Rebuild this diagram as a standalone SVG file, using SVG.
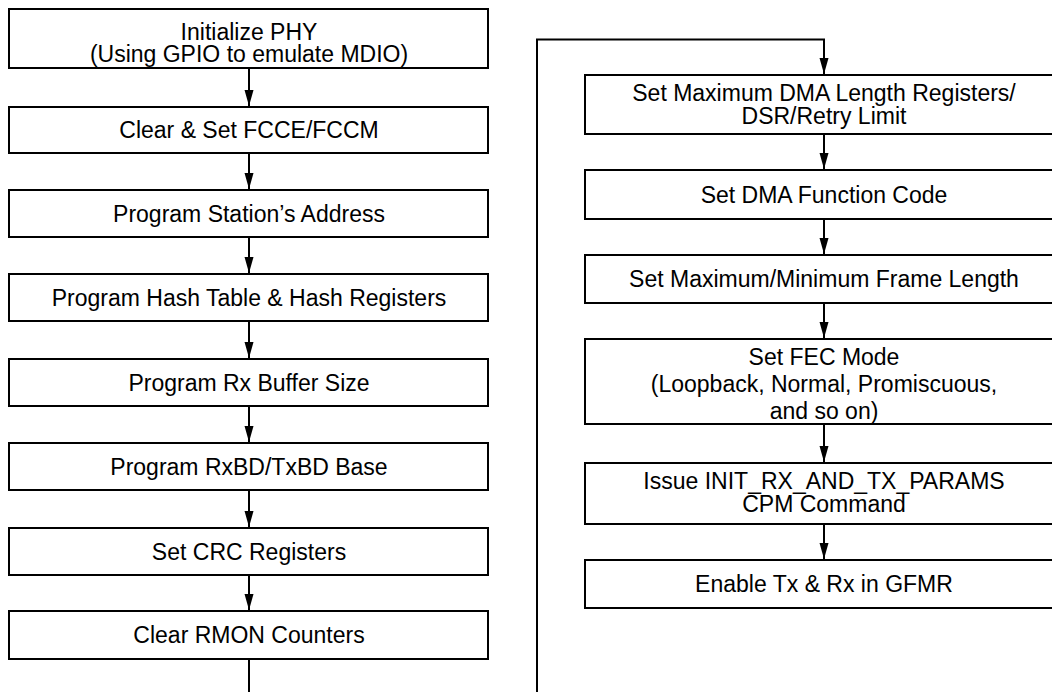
<svg xmlns="http://www.w3.org/2000/svg" width="1052" height="692" viewBox="0 0 1052 692">
  <style>
    .box { fill: #ffffff; stroke: #000000; stroke-width: 2; }
    .lbl { font-family: "Liberation Sans", Arial, sans-serif; font-size: 23px; fill: #000000; text-anchor: middle; }
    .wire { fill: none; stroke: #000000; stroke-width: 2; }
  </style>
  <defs>
    <!-- filled arrowhead; the tip sits exactly on the line end -->
    <marker id="head" markerUnits="userSpaceOnUse" viewBox="0 0 16 10" markerWidth="16" markerHeight="10" refX="16" refY="5" orient="auto">
      <path d="M0,0.5 L16,5 L0,9.5 Z" fill="#000000"/>
    </marker>
  </defs>
  <rect width="1052" height="692" fill="#ffffff"/>

  <!-- connectors -->
  <g id="connectors">
    <line class="wire" x1="249" y1="68" x2="249" y2="106" marker-end="url(#head)"/>
    <line class="wire" x1="249" y1="153" x2="249" y2="189" marker-end="url(#head)"/>
    <line class="wire" x1="249" y1="237" x2="249" y2="273" marker-end="url(#head)"/>
    <line class="wire" x1="249" y1="321" x2="249" y2="358" marker-end="url(#head)"/>
    <line class="wire" x1="249" y1="406" x2="249" y2="442" marker-end="url(#head)"/>
    <line class="wire" x1="249" y1="490" x2="249" y2="527" marker-end="url(#head)"/>
    <line class="wire" x1="249" y1="575" x2="249" y2="610" marker-end="url(#head)"/>
    <line class="wire" x1="249" y1="659" x2="249" y2="692"/>
    <polyline class="wire" points="537,692 537,39.5 824,39.5 824,74" marker-end="url(#head)"/>
    <line class="wire" x1="824" y1="134" x2="824" y2="169" marker-end="url(#head)"/>
    <line class="wire" x1="824" y1="219" x2="824" y2="254" marker-end="url(#head)"/>
    <line class="wire" x1="824" y1="303" x2="824" y2="338" marker-end="url(#head)"/>
    <line class="wire" x1="824" y1="424" x2="824" y2="462" marker-end="url(#head)"/>
    <line class="wire" x1="824" y1="524" x2="824" y2="559" marker-end="url(#head)"/>
  </g>

  <!-- left column -->
  <g id="init-phy">
    <rect class="box" x="9" y="9" width="479" height="59"/>
    <text class="lbl" x="249" y="40">Initialize PHY</text>
    <text class="lbl" x="249" y="62">(Using GPIO to emulate MDIO)</text>
  </g>
  <g id="fcce-fccm">
    <rect class="box" x="9" y="107" width="479" height="46"/>
    <text class="lbl" x="249" y="138">Clear &amp; Set FCCE/FCCM</text>
  </g>
  <g id="station-address">
    <rect class="box" x="9" y="190" width="479" height="47"/>
    <text class="lbl" x="249" y="221.5">Program Station’s Address</text>
  </g>
  <g id="hash-table">
    <rect class="box" x="9" y="274" width="479" height="47"/>
    <text class="lbl" x="249" y="305.5">Program Hash Table &amp; Hash Registers</text>
  </g>
  <g id="rx-buffer">
    <rect class="box" x="9" y="359" width="479" height="47"/>
    <text class="lbl" x="249" y="390.5">Program Rx Buffer Size</text>
  </g>
  <g id="bd-base">
    <rect class="box" x="9" y="443" width="479" height="47"/>
    <text class="lbl" x="249" y="474.5">Program RxBD/TxBD Base</text>
  </g>
  <g id="crc-registers">
    <rect class="box" x="9" y="528" width="479" height="47"/>
    <text class="lbl" x="249" y="559.5">Set CRC Registers</text>
  </g>
  <g id="rmon-counters">
    <rect class="box" x="9" y="611" width="479" height="48"/>
    <text class="lbl" x="249" y="643">Clear RMON Counters</text>
  </g>

  <!-- right column -->
  <g id="dma-length">
    <rect class="box" x="585" y="75" width="478" height="59"/>
    <text class="lbl" x="824" y="101">Set Maximum DMA Length Registers/</text>
    <text class="lbl" x="824" y="124">DSR/Retry Limit</text>
  </g>
  <g id="dma-function-code">
    <rect class="box" x="585" y="170" width="478" height="49"/>
    <text class="lbl" x="824" y="202.5">Set DMA Function Code</text>
  </g>
  <g id="frame-length">
    <rect class="box" x="585" y="255" width="478" height="48"/>
    <text class="lbl" x="824" y="287">Set Maximum/Minimum Frame Length</text>
  </g>
  <g id="fec-mode">
    <rect class="box" x="585" y="339" width="478" height="85"/>
    <text class="lbl" x="824" y="365">Set FEC Mode</text>
    <text class="lbl" x="824" y="392">(Loopback, Normal, Promiscuous,</text>
    <text class="lbl" x="824" y="419">and so on)</text>
  </g>
  <g id="init-params">
    <rect class="box" x="585" y="463" width="478" height="61"/>
    <text class="lbl" x="824" y="489">Issue INIT_RX_AND_TX_PARAMS</text>
    <text class="lbl" x="824" y="512">CPM Command</text>
  </g>
  <g id="enable-txrx">
    <rect class="box" x="585" y="560" width="478" height="48"/>
    <text class="lbl" x="824" y="592">Enable Tx &amp; Rx in GFMR</text>
  </g>
</svg>
